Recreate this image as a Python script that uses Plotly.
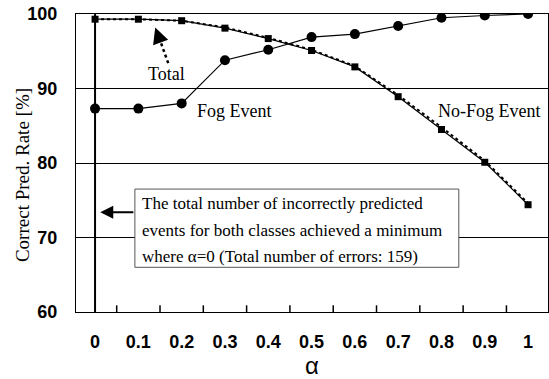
import plotly.graph_objects as go

# Weighting parameter alpha and correct prediction rates [%]
alpha = [0, 0.1, 0.2, 0.3, 0.4, 0.5, 0.6, 0.7, 0.8, 0.9, 1.0]
fog_rate = [87.3, 87.3, 88.0, 93.8, 95.2, 96.9, 97.3, 98.4, 99.5, 99.8, 100.0]
nofog_rate = [99.3, 99.3, 99.1, 98.1, 96.7, 95.1, 92.9, 88.9, 84.5, 80.1, 74.4]
total_rate = [99.3, 99.3, 99.1, 98.2, 96.8, 95.2, 93.0, 89.1, 84.8, 80.3, 74.6]

x_ticks = alpha
x_labels = ["0", "0.1", "0.2", "0.3", "0.4", "0.5", "0.6", "0.7", "0.8", "0.9", "1"]
x_between = [0.05, 0.15, 0.25, 0.35, 0.45, 0.55, 0.65, 0.75, 0.85, 0.95]
y_ticks = [60, 70, 80, 90, 100]
x_range = [-0.044, 1.046]
y_range = [60, 100]

serif = "Liberation Serif, Times New Roman, serif"
sans = "Liberation Sans, Arial, sans-serif"

fig = go.Figure()

fig.add_trace(go.Scatter(
    x=alpha, y=total_rate, mode="lines",
    line=dict(color="black", width=2, dash="dot"),
    name="Total", showlegend=False,
))
fig.add_trace(go.Scatter(
    x=alpha, y=nofog_rate, mode="lines+markers",
    line=dict(color="black", width=1.2),
    marker=dict(symbol="square", size=7, color="black"),
    name="No-Fog Event", showlegend=False,
))
fig.add_trace(go.Scatter(
    x=alpha, y=fog_rate, mode="lines+markers",
    line=dict(color="black", width=1.2),
    marker=dict(symbol="circle", size=10, color="black"),
    name="Fog Event", showlegend=False,
))

# Tick marks between categories, pointing into the plot from the bottom axis
for xb in x_between:
    fig.add_shape(type="line", xref="x", yref="y",
                  x0=xb, x1=xb, y0=y_range[0], y1=y_range[0] + 0.9,
                  line=dict(color="black", width=1.5), layer="above")

# Vertical marker line at alpha = 0
fig.add_shape(type="line", x0=0, x1=0, y0=y_range[0], y1=y_range[1], xref="x", yref="y",
              line=dict(color="black", width=2))

# Dotted pointer to the total curve
fig.add_trace(go.Scatter(
    x=[0.169, 0.145], y=[93.4, 97.3], mode="lines",
    line=dict(color="black", width=2.5, dash="dot"),
    showlegend=False, hoverinfo="skip",
))
fig.add_annotation(x=0.139, y=98.2, ax=0.147, ay=96.9, xref="x", yref="y",
                   axref="x", ayref="y", text="", showarrow=True,
                   arrowhead=2, arrowsize=1.6, arrowwidth=2, arrowcolor="black")

fig.add_annotation(x=0.164, y=91.95, text="Total", showarrow=False,
                   font=dict(family=serif, size=18, color="black"))
fig.add_annotation(x=0.323, y=86.98, text="Fog Event", showarrow=False,
                   font=dict(family=serif, size=18, color="black"))
fig.add_annotation(x=0.91, y=86.98, text="No-Fog Event", showarrow=False,
                   font=dict(family=serif, size=18, color="black"))

# Note box
fig.add_shape(type="rect", x0=0.092, x1=0.84, y0=66.0, y1=76.5, xref="x", yref="y",
              line=dict(color="#555555", width=1), fillcolor="white", layer="above")
note_lines = [
    "The total number of incorrectly predicted",
    "events for both classes achieved a minimum",
    "where \u03b1=0 (Total number of errors: 159)",
]
note_y = [74.5, 71.0, 67.5]
for txt, yy in zip(note_lines, note_y):
    fig.add_annotation(x=0.103, y=yy, text=txt, showarrow=False, xanchor="left",
                       font=dict(family=serif, size=17, color="black"))

fig.add_annotation(x=0.012, y=73.4, ax=0.092, ay=73.4, xref="x", yref="y",
                   axref="x", ayref="y", text="", showarrow=True,
                   arrowhead=2, arrowsize=1.3, arrowwidth=2, arrowcolor="black")

# Y-axis title
fig.add_annotation(xref="paper", yref="paper", x=-0.112, y=0.46,
                   xanchor="center", yanchor="middle",
                   text="Correct Pred. Rate [%]", textangle=-90, showarrow=False,
                   font=dict(family=serif, size=19, color="black"))

fig.update_layout(
    width=549, height=379,
    margin=dict(l=76, r=1, t=14, b=67),
    paper_bgcolor="white", plot_bgcolor="white",
    xaxis=dict(
        range=x_range,
        tickmode="array", tickvals=x_ticks, ticktext=x_labels, ticks="",
        tickfont=dict(family=sans, size=18, color="black", weight="bold"),
        ticklabelstandoff=13,
        showgrid=False, zeroline=False,
        showline=True, linecolor="black", linewidth=1, mirror=True,
        title=dict(text="\u03b1", font=dict(family=sans, size=24, color="black"), standoff=4),
    ),
    yaxis=dict(
        range=y_range,
        tickmode="array", tickvals=y_ticks, ticks="",
        tickfont=dict(family=sans, size=18, color="black", weight="bold"),
        ticklabelstandoff=14,
        showgrid=True, gridcolor="black", gridwidth=1,
        zeroline=False,
        showline=True, linecolor="black", linewidth=1, mirror=True,
    ),
)

fig.write_html("out.html")
